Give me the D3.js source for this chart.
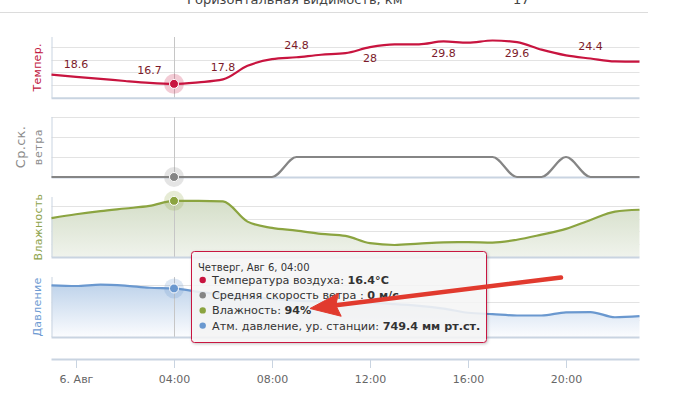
<!DOCTYPE html>
<html>
<head>
<meta charset="utf-8">
<script src="https://cdnjs.cloudflare.com/ajax/libs/d3/7.8.5/d3.min.js"></script>
<style>
  body { margin: 0; background: #fff; }
  svg { display: block; font-family: "DejaVu Sans", Verdana, sans-serif; }
</style>
</head>
<body>
<div id="chart"></div>
<script>
// hourly observations, 5 Aug 23:00 .. 6 Aug 23:00
var times = [
  "2015-08-05T23:00", "2015-08-06T00:00", "2015-08-06T01:00", "2015-08-06T02:00",
  "2015-08-06T03:00", "2015-08-06T04:00", "2015-08-06T05:00", "2015-08-06T06:00",
  "2015-08-06T07:00", "2015-08-06T08:00", "2015-08-06T09:00", "2015-08-06T10:00",
  "2015-08-06T11:00", "2015-08-06T12:00", "2015-08-06T13:00", "2015-08-06T14:00",
  "2015-08-06T15:00", "2015-08-06T16:00", "2015-08-06T17:00", "2015-08-06T18:00",
  "2015-08-06T19:00", "2015-08-06T20:00", "2015-08-06T21:00", "2015-08-06T22:00",
  "2015-08-06T23:00"
];
var temperature = [19.3, 18.6, 18.0, 17.3, 16.7, 16.4, 16.9, 17.8, 22.1, 24.2, 24.8, 25.6, 26.1,
  28, 28.9, 28.9, 29.8, 29.4, 30.1, 29.6, 27.2, 25.4, 24.4, 23.5, 23.4];
var windSpeed = [0, 0, 0, 0, 0, 0, 0, 0, 0, 0, 1, 1, 1, 1, 1, 1, 1, 1, 1, 0, 0, 1, 0, 0, 0];
var humidity = [80.5, 83.5, 86, 88, 90, 94, 94, 93.5, 77.7, 72.8, 70.7, 68.1, 66.5,
  60.8, 59.4, 60.5, 61.5, 61.6, 61.3, 63.5, 67.5, 72, 79, 85.5, 87];
var pressure = [749.49, 749.47, 749.51, 749.48, 749.42, 749.4, 749.3, 749.22, 749.15, 749.1,
  749.05, 749.02, 748.98, 748.98, 748.95, 748.9, 748.82, 748.7, 748.66, 748.62, 748.62,
  748.71, 748.72, 748.57, 748.6];

// temperature values are labelled every three hours
var tempLabelTimes = ["2015-08-06T00:00", "2015-08-06T03:00", "2015-08-06T06:00", "2015-08-06T09:00",
  "2015-08-06T12:00", "2015-08-06T15:00", "2015-08-06T18:00", "2015-08-06T21:00"];
var xTickTimes = ["2015-08-06T00:00", "2015-08-06T04:00", "2015-08-06T08:00",
  "2015-08-06T12:00", "2015-08-06T16:00", "2015-08-06T20:00"];
var hoverTime = "2015-08-06T04:00";

var tooltipHeader = "Четверг, Авг 6, 04:00";
var tooltipNames = ["Температура воздуха: ", "Средняя скорость ветра : ", "Влажность: ", "Атм. давление, ур. станции: "];
var tooltipUnits = ["°C", " м/с", "%", " мм рт.ст."];

var W = 675, H = 410;
var plotLeft = 51.5, plotRight = 639.5;

var parse = d3.timeParse("%Y-%m-%dT%H:%M");
var dates = times.map(parse);
var hoverIndex = times.indexOf(hoverTime);

var svg = d3.select("#chart").append("svg").attr("width", W).attr("height", H);
var defs = svg.append("defs");

var x = d3.scaleTime()
  .domain([dates[0], dates[dates.length - 1]])
  .range([plotLeft, plotRight]);

// gradients for the two area series
var gHum = defs.append("linearGradient").attr("id", "gHum")
  .attr("gradientUnits", "userSpaceOnUse").attr("x1", 0).attr("x2", 0).attr("y1", 200).attr("y2", 257);
gHum.append("stop").attr("offset", 0).attr("stop-color", "#d4dec8");
gHum.append("stop").attr("offset", 1).attr("stop-color", "#f0f3ec");
var gPres = defs.append("linearGradient").attr("id", "gPres")
  .attr("gradientUnits", "userSpaceOnUse").attr("x1", 0).attr("x2", 0).attr("y1", 283).attr("y2", 337);
gPres.append("stop").attr("offset", 0).attr("stop-color", "#bdd2ea");
gPres.append("stop").attr("offset", 1).attr("stop-color", "#fbfcfe");

var shadow = defs.append("filter").attr("id", "shadow").attr("x", -0.1).attr("y", -0.1).attr("width", 1.2).attr("height", 1.3);
shadow.append("feDropShadow").attr("dx", 1).attr("dy", 1).attr("stdDeviation", 1.5)
  .attr("flood-color", "#000").attr("flood-opacity", 0.25);

// top header remnant (cut off by the page edge, as in the screenshot)
svg.append("text").attr("x", 187).attr("y", 3.5).attr("font-size", 13).attr("fill", "#444")
  .text("Горизонтальная видимость, км");
svg.append("text").attr("x", 513).attr("y", 3.5).attr("font-size", 13).attr("fill", "#444").text("17");
svg.append("line").attr("x1", 0).attr("x2", 648).attr("y1", 12.5).attr("y2", 12.5)
  .attr("stroke", "#dcdcdc").attr("stroke-width", 1);

var panels = [
  { values: temperature, top: 37, bottom: 97.8, domain: [12, 31.2], grid: [16, 20, 24, 28],
    color: "#c8143f", title: ["Темпер."], titleColor: "#c0143c", titleX: [37], titleSize: [11] },
  { values: windSpeed, top: 117, bottom: 177, domain: [0, 3], grid: [1, 2, 3],
    color: "#858585", title: ["Ср.ск.", "ветра"], titleColor: "#8c8c8c", titleX: [20, 38], titleSize: [13, 11] },
  { values: humidity, top: 197, bottom: 257, domain: [50, 97], grid: [60, 70, 80, 90],
    color: "#8ba440", area: "url(#gHum)", title: ["Влажность"], titleColor: "#8ea34c", titleX: [38], titleSize: [11] },
  { values: pressure, top: 277, bottom: 337, domain: [748, 749.73], grid: [748.5, 749, 749.5],
    color: "#6a98cf", area: "url(#gPres)", title: ["Давление"], titleColor: "#6e9bd2", titleX: [37], titleSize: [11] }
];

panels.forEach(function(p) {
  p.y = d3.scaleLinear().domain(p.domain).range([p.bottom, p.top]);
  var g = svg.append("g");

  // grid
  g.selectAll("line.grid").data(p.grid).enter().append("line")
    .attr("x1", plotLeft).attr("x2", plotRight)
    .attr("y1", function(d) { return Math.round(p.y(d)) + 0.5; })
    .attr("y2", function(d) { return Math.round(p.y(d)) + 0.5; })
    .attr("stroke", "#e3e3e3").attr("stroke-width", 1);

  var pts = p.values.map(function(v, i) { return [x(dates[i]), p.y(v)]; });

  if (p.area) {
    g.append("path")
      .attr("d", d3.area().x(function(d) { return d[0]; }).y0(p.bottom).y1(function(d) { return d[1]; })
        .curve(d3.curveMonotoneX)(pts))
      .attr("fill", p.area);
  }

  // crosshair
  g.append("line").attr("x1", x(dates[hoverIndex]) + 0.5).attr("x2", x(dates[hoverIndex]) + 0.5)
    .attr("y1", p.top).attr("y2", p.bottom).attr("stroke", "#c6c6c6").attr("stroke-width", 1);

  // axis lines
  g.append("line").attr("x1", plotLeft).attr("x2", plotRight).attr("y1", p.bottom + 0.5).attr("y2", p.bottom + 0.5)
    .attr("stroke", "#c9d4e1").attr("stroke-width", 2);
  g.append("line").attr("x1", plotLeft + 0.5).attr("x2", plotLeft + 0.5).attr("y1", p.top).attr("y2", p.bottom)
    .attr("stroke", "#c9d4e1").attr("stroke-width", 1);

  g.append("path")
    .attr("d", d3.line().curve(d3.curveMonotoneX)(pts))
    .attr("fill", "none").attr("stroke", p.color).attr("stroke-width", 2.2)
    .attr("stroke-linejoin", "round");

  // titles (rotated)
  var cy = (p.top + p.bottom) / 2;
  p.title.forEach(function(t, k) {
    g.append("text")
      .attr("transform", "translate(" + p.titleX[k] + "," + cy + ") rotate(-90)")
      .attr("text-anchor", "middle").attr("dy", "0.35em")
      .attr("font-size", p.titleSize[k]).attr("fill", p.titleColor)
      .attr("letter-spacing", k == 1 ? 0.6 : 0.3)
      .text(t);
  });

  // hovered marker
  var hp = pts[hoverIndex];
  g.append("circle").attr("cx", hp[0]).attr("cy", hp[1]).attr("r", 10)
    .attr("fill", p.color).attr("opacity", 0.22);
  g.append("circle").attr("cx", hp[0]).attr("cy", hp[1]).attr("r", 4.5)
    .attr("fill", p.color).attr("stroke", "#fff").attr("stroke-width", 1);
});

// temperature data labels
var tp = panels[0];
tempLabelTimes.forEach(function(t) {
  var i = times.indexOf(t);
  var px = x(dates[i]), py = tp.y(temperature[i]);
  var ly = py - 12.5;
  if (ly - 6 < tp.top) ly = py + 11.5;   // no room above -> put below
  svg.append("text").attr("x", px).attr("y", ly).attr("dy", "0.35em")
    .attr("text-anchor", "middle").attr("font-size", 11).attr("fill", "#7c1a2a")
    .text(d3.format("")(temperature[i]));
});

// x axis
var fmt = function(d) {
  return d.getHours() === 0 ? d.getDate() + ". Авг" : d3.timeFormat("%H:%M")(d);
};
var xAxis = svg.append("g").attr("transform", "translate(0,359)")
  .call(d3.axisBottom(x).tickValues(xTickTimes.map(parse)).tickFormat(fmt).tickSize(9).tickPadding(7));
xAxis.select(".domain").attr("stroke", "#c9d4e1").attr("stroke-width", 2).attr("d", "M" + plotLeft + ",0.5H" + plotRight);
xAxis.selectAll(".tick line").attr("stroke", "#c9d4e1");
xAxis.selectAll(".tick text").attr("fill", "#666").attr("font-size", 11)
  .attr("font-family", "DejaVu Sans, Verdana, sans-serif");

// tooltip
var tipVals = [
  temperature[hoverIndex] + "", windSpeed[hoverIndex] + "", humidity[hoverIndex] + "", pressure[hoverIndex] + ""
];
var tip = svg.append("g").attr("transform", "translate(191,251)");
tip.append("rect").attr("x", 0.5).attr("y", 0.5).attr("width", 295).attr("height", 91)
  .attr("rx", 3).attr("fill", "rgba(248,248,248,0.85)").attr("stroke", panels[0].color)
  .attr("stroke-width", 1).attr("filter", "url(#shadow)");
tip.append("text").attr("x", 7).attr("y", 19.5).attr("font-size", 10).attr("fill", "#333").text(tooltipHeader);
panels.forEach(function(p, k) {
  var ly = 33 + k * 15.2;
  tip.append("circle").attr("cx", 11.7).attr("cy", ly - 4).attr("r", 3.2).attr("fill", p.color);
  var t = tip.append("text").attr("x", 21).attr("y", ly).attr("font-size", 11.2).attr("fill", "#333");
  t.append("tspan").text(tooltipNames[k]);
  t.append("tspan").attr("font-weight", "bold").text(tipVals[k] + tooltipUnits[k]);
});

// red annotation arrow
var aStart = [561, 277.5], aTip = [310, 308.5];
var dx = aTip[0] - aStart[0], dy = aTip[1] - aStart[1];
var len = Math.sqrt(dx * dx + dy * dy), ux = dx / len, uy = dy / len;
var headLen = 30, headW = 11.5;
var bx = aTip[0] - ux * headLen, by = aTip[1] - uy * headLen;
svg.append("line").attr("x1", aStart[0]).attr("y1", aStart[1])
  .attr("x2", bx + ux * 4).attr("y2", by + uy * 4)
  .attr("stroke", "#e13a2e").attr("stroke-width", 4.5).attr("stroke-linecap", "round");
svg.append("polygon")
  .attr("points", [
    aTip,
    [bx - uy * headW, by + ux * headW],
    [bx + ux * 4, by + uy * 4],
    [bx + uy * headW, by - ux * headW]
  ].map(function(d) { return d.join(","); }).join(" "))
  .attr("fill", "#e13a2e").attr("stroke", "#e13a2e").attr("stroke-linejoin", "round");
</script>
</body>
</html>
